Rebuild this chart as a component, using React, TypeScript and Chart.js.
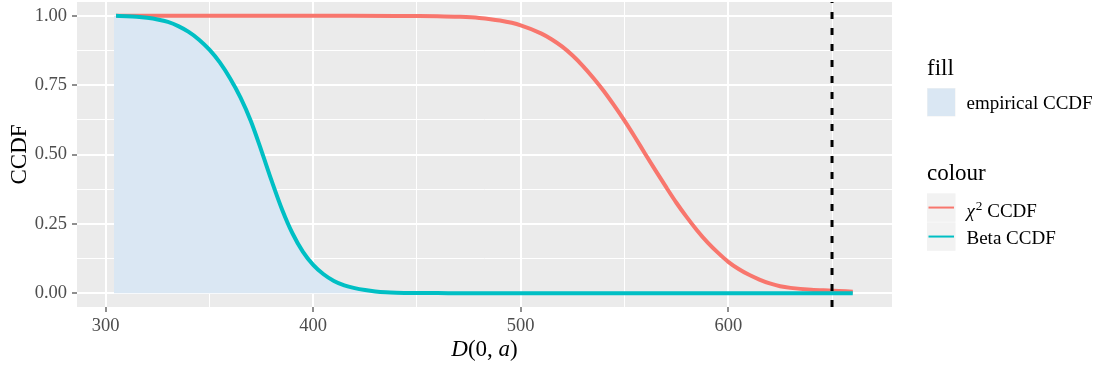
import { useEffect, useRef } from "react";
import { Chart, registerables } from "chart.js";

Chart.register(...registerables);

// ---- data ----
const BETA_X = [305, 310, 315, 320, 325, 330, 335, 340, 345, 350, 355, 360, 365, 370, 375, 380, 385, 390, 395, 400, 405, 410, 415, 420, 425, 430, 435, 440, 450, 460, 480, 520, 560, 600, 640, 660];
const BETA_Y = [1.0, 0.999, 0.997, 0.993, 0.987, 0.978, 0.963, 0.942, 0.914, 0.878, 0.832, 0.774, 0.705, 0.62, 0.515, 0.405, 0.302, 0.216, 0.15, 0.102, 0.068, 0.044, 0.028, 0.018, 0.011, 0.006, 0.003, 0.0015, 0.0004, 0.0001, 0, 0, 0, 0, 0, 0];

const CHI_X = [305, 350, 400, 440, 450, 460, 470, 480, 490, 500, 510, 515, 520, 525, 530, 535, 540, 545, 550, 555, 560, 565, 570, 575, 580, 585, 590, 595, 600, 605, 610, 615, 620, 625, 630, 640, 650, 660];
const CHI_Y = [1.0, 1.0, 1.0, 0.9999, 0.9996, 0.9988, 0.9968, 0.9925, 0.983, 0.966, 0.936, 0.915, 0.889, 0.857, 0.819, 0.776, 0.729, 0.677, 0.622, 0.563, 0.502, 0.442, 0.383, 0.326, 0.274, 0.226, 0.183, 0.146, 0.113, 0.087, 0.066, 0.049, 0.035, 0.025, 0.019, 0.012, 0.009, 0.005];

const EMP_X = [304, 310, 315, 320, 325, 330, 335, 340, 345, 350, 355, 360, 365, 370, 375, 380, 385, 390, 395, 400, 405, 410, 415, 420, 425, 430, 435, 440, 450, 460, 480, 520, 560, 600, 640, 660];
const EMP_Y = [1.0, 0.999, 0.997, 0.993, 0.987, 0.978, 0.963, 0.942, 0.914, 0.878, 0.832, 0.774, 0.705, 0.62, 0.515, 0.405, 0.302, 0.216, 0.15, 0.102, 0.068, 0.044, 0.028, 0.018, 0.011, 0.006, 0.003, 0.0015, 0.0004, 0.0001, 0, 0, 0, 0, 0, 0];

const VLINE_X = [650];

const X_MAJOR = [300, 400, 500, 600];
const X_MINOR = [350, 450, 550, 650];
const X_TICK_LABELS = ["300", "400", "500", "600"];
const Y_MAJOR = [0, 0.25, 0.5, 0.75, 1.0];
const Y_MINOR = [0.125, 0.375, 0.625, 0.875];
const Y_TICK_LABELS = ["0.00", "0.25", "0.50", "0.75", "1.00"];

const X_LIMITS = [286.2, 678.9];
const Y_LIMITS = [-0.05, 1.05];

const RED = "#F8766D";
const TEAL = "#00BFC4";
const FILL = "#DAE7F3";
const PANEL = "#EBEBEB";
const FONT = "'Liberation Serif', serif";
const TICK_SIZE = 18.5;
const TITLE_SIZE = 23;
const LEGEND_TEXT = 19;

const pts = (xs: number[], ys: number[]) => xs.map((x, i) => ({ x, y: ys[i] }));

const isMajor = (arr: number[], v: number) => arr.some((m) => Math.abs(m - v) < 1e-9);

const decorPlugin = {
  id: "decor",
  beforeDraw(chart: any) {
    const { ctx, chartArea } = chart;
    ctx.save();
    ctx.fillStyle = PANEL;
    ctx.fillRect(chartArea.left, chartArea.top, chartArea.right - chartArea.left, chartArea.bottom - chartArea.top);
    ctx.restore();
  },
  afterDraw(chart: any) {
    const { ctx, chartArea } = chart;
    ctx.save();
    ctx.fillStyle = "#000";
    ctx.textBaseline = "alphabetic";

    // y-axis title
    ctx.save();
    ctx.translate(26, (chartArea.top + chartArea.bottom) / 2);
    ctx.rotate(-Math.PI / 2);
    ctx.textAlign = "center";
    ctx.font = `${TITLE_SIZE}px ${FONT}`;
    ctx.fillText("CCDF", 0, 0);
    ctx.restore();

    // x-axis title: D(0, a)
    const parts: [string, boolean][] = [["D", true], ["(0, ", false], ["a", true], [")", false]];
    ctx.textAlign = "left";
    let total = 0;
    const widths = parts.map(([t, it]) => {
      ctx.font = `${it ? "italic " : ""}${TITLE_SIZE}px ${FONT}`;
      const w = ctx.measureText(t).width;
      total += w;
      return w;
    });
    let x = (chartArea.left + chartArea.right) / 2 - total / 2;
    parts.forEach(([t, it], i) => {
      ctx.font = `${it ? "italic " : ""}${TITLE_SIZE}px ${FONT}`;
      ctx.fillText(t, x, 356);
      x += widths[i];
    });

    // legend
    const lx = 927;
    ctx.font = `${TITLE_SIZE}px ${FONT}`;
    ctx.fillText("fill", lx, 75);
    ctx.fillStyle = "#F2F2F2";
    ctx.fillRect(lx, 88, 28.5, 28.5);
    ctx.fillStyle = FILL;
    ctx.fillRect(lx + 0.5, 88.5, 27.5, 27.5);
    ctx.fillStyle = "#000";
    ctx.font = `${LEGEND_TEXT}px ${FONT}`;
    ctx.fillText("empirical CCDF", 966.5, 108.5);

    ctx.font = `${TITLE_SIZE}px ${FONT}`;
    ctx.fillText("colour", lx, 179.5);
    const keys: [number, string][] = [[193.3, RED], [222.3, TEAL]];
    keys.forEach(([ky, col]) => {
      ctx.fillStyle = "#F2F2F2";
      ctx.fillRect(lx, ky, 28.5, 28.5);
      ctx.strokeStyle = col;
      ctx.lineWidth = 2;
      ctx.beginPath();
      ctx.moveTo(lx + 1.5, ky + 14.25);
      ctx.lineTo(lx + 27, ky + 14.25);
      ctx.stroke();
    });
    ctx.fillStyle = "#000";
    // chi^2 CCDF
    ctx.font = `italic ${LEGEND_TEXT}px ${FONT}`;
    ctx.fillText("χ", 966.5, 216.7);
    let cx = 966.5 + ctx.measureText("χ").width + 1;
    ctx.font = `${LEGEND_TEXT * 0.7}px ${FONT}`;
    ctx.fillText("2", cx, 216.7 - 7);
    cx += ctx.measureText("2").width;
    ctx.font = `${LEGEND_TEXT}px ${FONT}`;
    ctx.fillText(" CCDF", cx, 216.7);
    ctx.fillText("Beta CCDF", 966.5, 243.5);
    ctx.restore();
  },
};

export default function App() {
  const ref = useRef<HTMLCanvasElement>(null);

  useEffect(() => {
    if (!ref.current) return;
    const xTicks = [...X_MAJOR, ...X_MINOR].sort((a, b) => a - b);
    const yTicks = [...Y_MAJOR, ...Y_MINOR].sort((a, b) => a - b);
    const chart = new Chart(ref.current, {
      type: "line",
      data: {
        datasets: [
          {
            label: "Beta CCDF",
            data: pts(BETA_X, BETA_Y),
            borderColor: TEAL,
            borderWidth: 4,
            pointRadius: 0,
            fill: false,
            cubicInterpolationMode: "monotone",
            order: 0,
          },
          {
            label: "threshold",
            data: [
              { x: VLINE_X[0], y: Y_LIMITS[0] },
              { x: VLINE_X[0], y: Y_LIMITS[1] },
            ],
            borderColor: "#000",
            borderWidth: 3,
            borderDash: [7, 9],
            pointRadius: 0,
            fill: false,
            order: 1,
          },
          {
            label: "χ2 CCDF",
            data: pts(CHI_X, CHI_Y),
            borderColor: RED,
            borderWidth: 4,
            pointRadius: 0,
            fill: false,
            cubicInterpolationMode: "monotone",
            order: 2,
          },
          {
            label: "empirical CCDF",
            data: pts(EMP_X, EMP_Y),
            borderWidth: 0,
            borderColor: "rgba(0,0,0,0)",
            backgroundColor: FILL,
            pointRadius: 0,
            fill: "origin",
            cubicInterpolationMode: "monotone",
            order: 3,
          },
        ],
      },
      options: {
        animation: false,
        responsive: false,
        devicePixelRatio: 1,
        layout: { padding: { left: 0, top: 2, right: 212, bottom: 0 } },
        plugins: { legend: { display: false }, tooltip: { enabled: false }, title: { display: false } },
        scales: {
          x: {
            type: "linear",
            min: X_LIMITS[0],
            max: X_LIMITS[1],
            afterBuildTicks: (s: any) => {
              s.ticks = xTicks.map((v) => ({ value: v }));
            },
            afterFit: (s: any) => {
              s.height = 58;
              s.paddingLeft = 0;
              s.paddingRight = 0;
            },
            ticks: {
              autoSkip: false,
              maxRotation: 0,
              padding: 3,
              color: "#4D4D4D",
              font: { family: FONT, size: TICK_SIZE },
              callback: (v: any) => {
                const i = X_MAJOR.findIndex((m) => Math.abs(m - v) < 1e-9);
                return i >= 0 ? X_TICK_LABELS[i] : "";
              },
            },
            grid: {
              color: "#FFFFFF",
              lineWidth: (c: any) => (isMajor(X_MAJOR, c.tick?.value) ? 2 : 1),
              tickColor: (c: any) => (isMajor(X_MAJOR, c.tick?.value) ? "#333333" : "rgba(0,0,0,0)"),
              tickWidth: 1.1,
              tickLength: 5,
              drawTicks: true,
            },
            border: { display: false },
          },
          y: {
            type: "linear",
            min: Y_LIMITS[0],
            max: Y_LIMITS[1],
            afterBuildTicks: (s: any) => {
              s.ticks = yTicks.map((v) => ({ value: v }));
            },
            afterFit: (s: any) => {
              s.width = 77;
              s.paddingTop = 0;
              s.paddingBottom = 0;
            },
            ticks: {
              autoSkip: false,
              padding: 5,
              color: "#4D4D4D",
              font: { family: FONT, size: TICK_SIZE },
              callback: (v: any) => {
                const i = Y_MAJOR.findIndex((m) => Math.abs(m - v) < 1e-9);
                return i >= 0 ? Y_TICK_LABELS[i] : "";
              },
            },
            grid: {
              color: "#FFFFFF",
              lineWidth: (c: any) => (isMajor(Y_MAJOR, c.tick?.value) ? 2 : 1),
              tickColor: (c: any) => (isMajor(Y_MAJOR, c.tick?.value) ? "#333333" : "rgba(0,0,0,0)"),
              tickWidth: 1.1,
              tickLength: 5,
              drawTicks: true,
            },
            border: { display: false },
          },
        },
      },
      plugins: [decorPlugin],
    } as any);
    return () => chart.destroy();
  }, []);

  return (
    <div style={{ position: "absolute", left: 0, top: 0, width: 1104, height: 365 }}>
      <canvas ref={ref} width={1104} height={365} style={{ display: "block", width: 1104, height: 365 }} />
    </div>
  );
}
